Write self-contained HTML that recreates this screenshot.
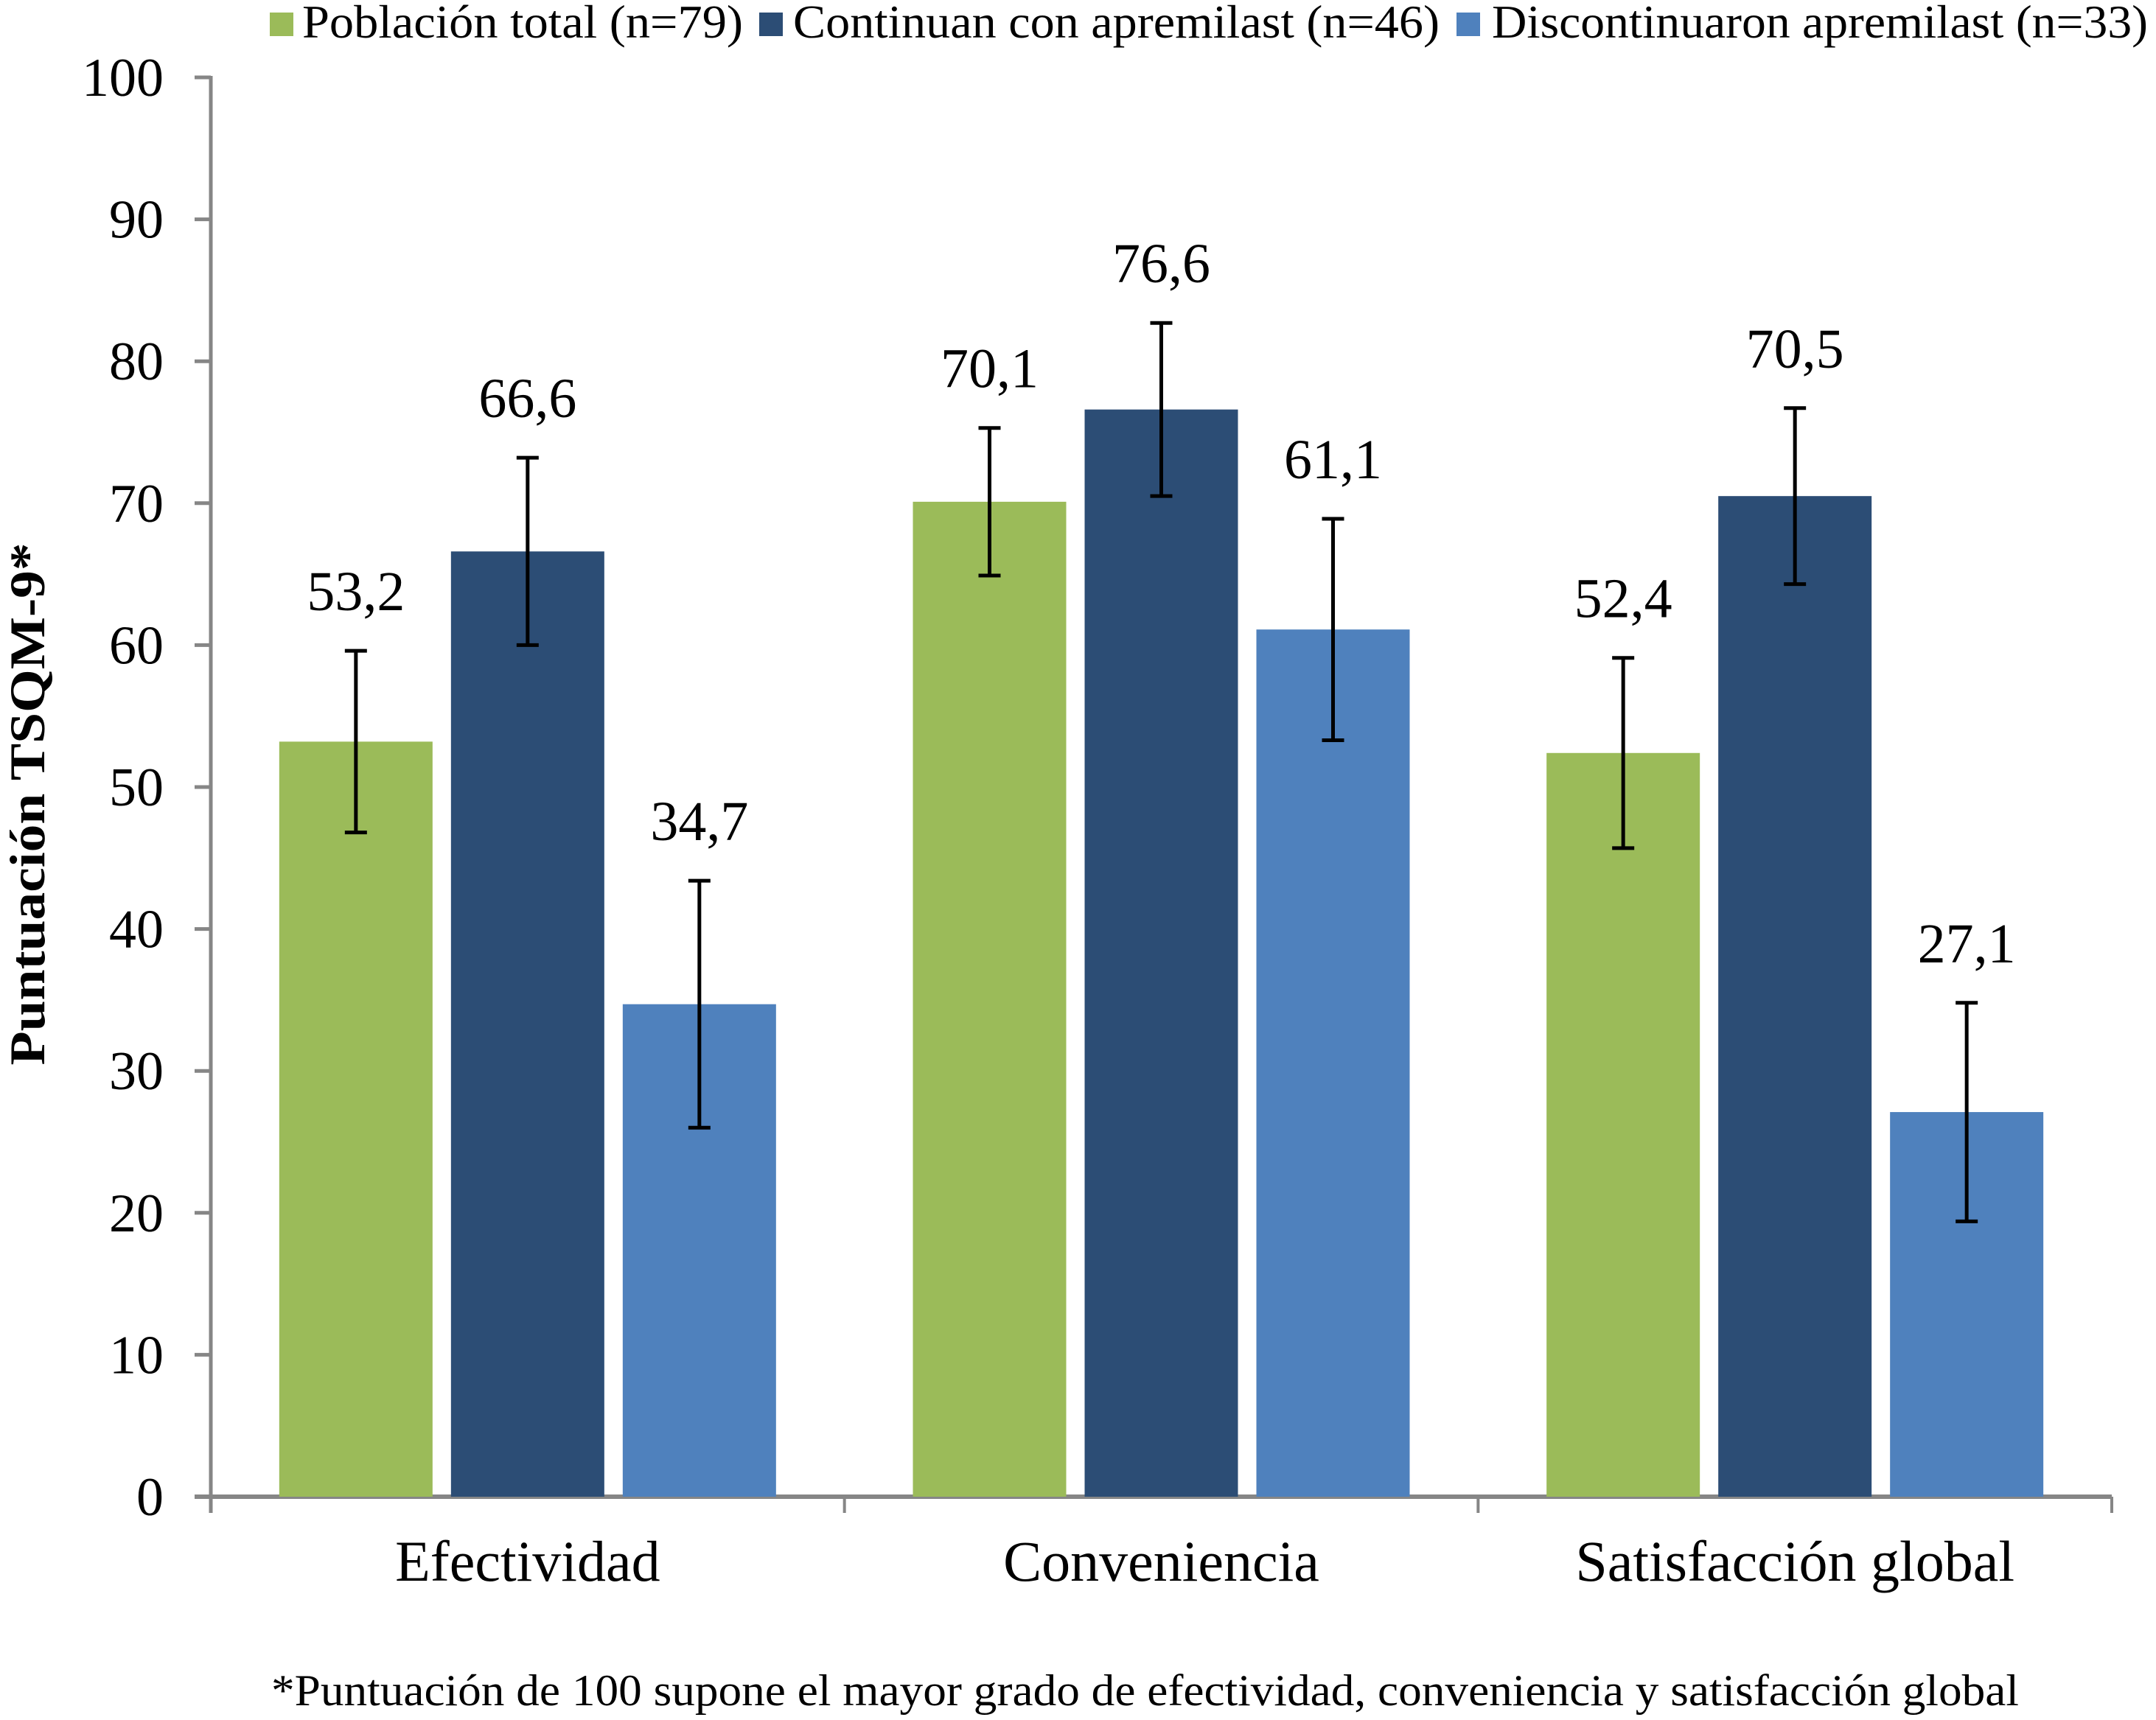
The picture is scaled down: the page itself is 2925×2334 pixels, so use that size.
<!DOCTYPE html>
<html><head><meta charset="utf-8"><style>
html,body{margin:0;padding:0;background:#fff;}
svg{display:block;font-family:"Liberation Serif",serif;}
</style></head><body>
<svg id="chart" width="2925" height="2334" viewBox="0 0 2925 2334" xmlns="http://www.w3.org/2000/svg">
<g id="legend">
<rect x="366" y="17" width="32" height="32" fill="#9BBB59"/>
<text x="410" y="51" font-size="64" textLength="598" lengthAdjust="spacingAndGlyphs">Población total (n=79)</text>
<rect x="1030" y="17" width="32" height="32" fill="#2C4D75"/>
<text x="1076" y="51" font-size="64" textLength="877" lengthAdjust="spacingAndGlyphs">Continuan con apremilast (n=46)</text>
<rect x="1976" y="17" width="32" height="32" fill="#4F81BD"/>
<text x="2024" y="51" font-size="64" textLength="890" lengthAdjust="spacingAndGlyphs">Discontinuaron apremilast (n=33)</text>
</g>
<text transform="translate(60,1091) rotate(-90)" text-anchor="middle" font-size="68" font-weight="bold" textLength="709" lengthAdjust="spacingAndGlyphs">Puntuación TSQM-9*</text>
<g id="axes"></g>
<g id="bars"></g>
<text x="368" y="2314" font-size="60" textLength="2371" lengthAdjust="spacingAndGlyphs">*Puntuación de 100 supone el mayor grado de efectividad, conveniencia y satisfacción global</text>
</svg>
<script>
const categories = ["Efectividad", "Conveniencia", "Satisfacción global"];
const seriesNames = ["Población total (n=79)", "Continuan con apremilast (n=46)", "Discontinuaron apremilast (n=33)"];
const seriesTotal = [53.2, 70.1, 52.4];
const seriesContinuan = [66.6, 76.6, 70.5];
const seriesDiscontinuaron = [34.7, 61.1, 27.1];
const errTotal = [6.4, 5.2, 6.7];
const errContinuan = [6.6, 6.1, 6.2];
const errDiscontinuaron = [8.7, 7.8, 7.7];
const valueLabels = [["53,2","70,1","52,4"],["66,6","76,6","70,5"],["34,7","61,1","27,1"]];
const yTicks = [0,10,20,30,40,50,60,70,80,90,100];

const NS = "http://www.w3.org/2000/svg";
const X0 = 286, X1 = 2865, Y0 = 2031, Y100 = 105;
const colors = ["#9BBB59","#2C4D75","#4F81BD"];
const seriesKeys = ["total","continuan","discontinuaron"];
const series = [seriesTotal, seriesContinuan, seriesDiscontinuaron];
const errs = [errTotal, errContinuan, errDiscontinuaron];
function y(v){ return Y0 - (Y0 - Y100) * v / 100; }
const catW = (X1 - X0) / categories.length;
const barW = 208, gap = 25;
function barX(ci, si){ const gw = 3*barW + 2*gap; return X0 + ci*catW + (catW - gw)/2 + si*(barW+gap); }
function mk(tag, attrs, parent){ const e = document.createElementNS(NS, tag); for (const k in attrs) e.setAttribute(k, attrs[k]); parent.appendChild(e); return e; }

const axes = document.getElementById('axes');
const bars = document.getElementById('bars');
let l = mk('line',{x1:X0,y1:Y100-2,x2:X0,y2:Y0+22,stroke:'#868686','stroke-width':5},axes);


yTicks.forEach(t => {
  const tk = mk('line',{x1:X0-22,y1:y(t),x2:X0,y2:y(t),stroke:'#868686','stroke-width':5},axes);
  
  
  const tx = mk('text',{x:222,y:y(t)+25,'text-anchor':'end','font-size':74},axes);
  tx.textContent = t;
  
  
});
const xl = mk('line',{x1:X0-22,y1:Y0,x2:X1,y2:Y0,stroke:'#868686','stroke-width':6},axes);


for (let i=1;i<=categories.length;i++){
  const xt = X0 + i*catW;
  const tk = mk('line',{x1:xt,y1:Y0,x2:xt,y2:Y0+22,stroke:'#868686','stroke-width':4},axes);
  
  
}
categories.forEach((c,ci) => {
  const tx = mk('text',{x:X0+ci*catW+catW/2,y:2145,'text-anchor':'middle','font-size':78},axes);
  tx.textContent = c;
  
  
});
categories.forEach((c,ci) => {
  series.forEach((s,si) => {
    const v = s[ci], e = errs[si][ci];
    const bx = barX(ci,si), cx = bx + barW/2;
    const r = mk('rect',{x:bx,y:y(v),width:barW,height:Y0-y(v),fill:colors[si]},bars);
    
    
    const g = mk('g',{stroke:'#000','stroke-width':5},bars);
    
    
    mk('line',{x1:cx,y1:y(v+e),x2:cx,y2:y(v-e)},g);
    mk('line',{x1:cx-15,y1:y(v+e),x2:cx+15,y2:y(v+e)},g);
    mk('line',{x1:cx-15,y1:y(v-e),x2:cx+15,y2:y(v-e)},g);
    const t = mk('text',{x:cx,y:y(v+e)-55,'text-anchor':'middle','font-size':76},bars);
    t.textContent = valueLabels[si][ci];
    
    
  });
});
</script>
</body></html>
